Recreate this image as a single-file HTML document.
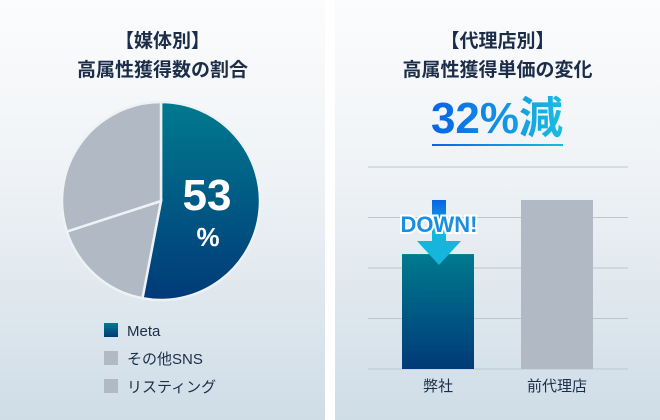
<!DOCTYPE html>
<html><head><meta charset="utf-8">
<style>
html,body{margin:0;padding:0;background:#fff;}
body{width:660px;height:420px;position:relative;overflow:hidden;font-family:"Liberation Sans","Noto Sans CJK JP",sans-serif;}
.panel{position:absolute;top:0;height:420px;background:linear-gradient(#fbfcfd,#f0f3f6 40%,#cfdde7);}
.title{position:absolute;width:100%;text-align:center;color:#1c2d4a;font-weight:bold;font-size:19px;line-height:29px;}
</style></head><body>
<div class="panel" style="left:0;width:325px;">
  <div class="title" style="top:27px;">【媒体別】<br>高属性獲得数の割合</div>
</div>
<div class="panel" style="left:335px;width:325px;">
  <div class="title" style="top:27px;">【代理店別】<br>高属性獲得単価の変化</div>
</div>
<svg width="660" height="420" style="position:absolute;left:0;top:0">
<defs>
<linearGradient id="gMeta" x1="0" y1="0" x2="0" y2="1"><stop offset="0" stop-color="#007a8f"/><stop offset="1" stop-color="#003a78"/></linearGradient>
<linearGradient id="gText" x1="0" y1="0" x2="1" y2="0"><stop offset="0" stop-color="#0a63e6"/><stop offset="1" stop-color="#19bde0"/></linearGradient>
<linearGradient id="gArrow" x1="0" y1="0" x2="0" y2="1"><stop offset="0" stop-color="#0a63e6"/><stop offset="0.5" stop-color="#16b6dc"/></linearGradient>
</defs>
<g id="pie"></g>
<g id="legend"></g>
<g id="bars"></g>
</svg>
<script>
const pieLabels=["Meta","その他SNS","リスティング"];
const pieValues=[53,17,30];
const barCategories=["弊社","前代理店"];
const barValues=[68,100];
const barMax=135;

const NS="http://www.w3.org/2000/svg";
function mk(t,a,p){const e=document.createElementNS(NS,t);for(const k in a)e.setAttribute(k,a[k]);p.appendChild(e);return e;}
const pieColors=["url(#gMeta)","#b1b9c4","#b1b9c4"];
const cx=161,cy=201,r=99;
const total=pieValues.reduce((a,b)=>a+b,0);
let acc=0;
const pg=document.getElementById('pie');
function pt(f){const a=f*2*Math.PI;return [cx+r*Math.sin(a),cy-r*Math.cos(a)];}
pieValues.forEach((v,i)=>{
  const s=pt(acc/total);acc+=v;const e=pt(acc/total);
  const large=v/total>0.5?1:0;
  const p=mk('path',{d:`M${cx},${cy}L${s[0]},${s[1]}A${r},${r} 0 ${large} 1 ${e[0]},${e[1]}Z`,fill:pieColors[i],stroke:'#eef2f5','stroke-width':2.5},pg);
  
  
});
const t1=mk('text',{x:207,y:210,'text-anchor':'middle',fill:'#fff','font-size':44,'font-weight':'bold','font-family':'Liberation Sans Narrow, Liberation Sans, sans-serif'},pg);
t1.textContent=pieValues[0];


const t2=mk('text',{x:208,y:246,'text-anchor':'middle',fill:'#fff','font-size':26,'font-weight':'bold'},pg);
t2.textContent='%';



const lg=document.getElementById('legend');
pieLabels.forEach((l,i)=>{
  const y=323+i*28;
  const sq=mk('rect',{x:104,y:y,width:14,height:14,fill:pieColors[i]},lg);
  
  
  const tx=mk('text',{x:127,y:y+13,fill:'#1c2d4a','font-size':15},lg);
  tx.textContent=l;
  
  
});

const bg=document.getElementById('bars');
const x0=368,x1=628,yb=369,yt=167;
function ys(v){return yb-(v/barMax)*(yb-167)*1;}
for(let k=0;k<5;k++){
  const y=yt+k*(yb-yt)/4;
  const g=mk('line',{x1:x0,x2:x1,y1:y,y2:y,stroke:'#bcc6cd','stroke-width':1},bg);
  
  
}
const cxs=[438,557];
const bcol=["url(#gMeta)","#b1b9c4"];
barValues.forEach((v,i)=>{
  const top=yb-(v/100)*(yb-200);
  const b=mk('rect',{x:cxs[i]-36,y:top,width:72,height:yb-top,fill:bcol[i]},bg);
  
  
  const t=mk('text',{x:cxs[i],y:391,'text-anchor':'middle',fill:'#1c2d4a','font-size':15},bg);
  t.textContent=barCategories[i];
  
  
});
// arrow
const ar=mk('path',{d:'M432,200H446V241H461L439,265L417,241H432Z',fill:'url(#gArrow)'},bg);


const dw=mk('text',{x:439,y:232,'text-anchor':'middle','font-size':22,'font-weight':'bold',fill:'#1a8fe0',stroke:'#fff','stroke-width':4,'paint-order':'stroke','font-family':'Liberation Sans Narrow, Liberation Sans, sans-serif'},bg);
dw.textContent='DOWN!';


// headline
const hl=mk('text',{x:497,y:133,'text-anchor':'middle','font-size':44,'font-weight':'bold',fill:'url(#gText)','font-family':'Liberation Sans Narrow, Liberation Sans, Noto Sans CJK JP, sans-serif'},bg);
hl.textContent='32%減';


const ul=mk('rect',{x:432,y:144,width:131,height:2,fill:'url(#gText)'},bg);


</script>
</body></html>
